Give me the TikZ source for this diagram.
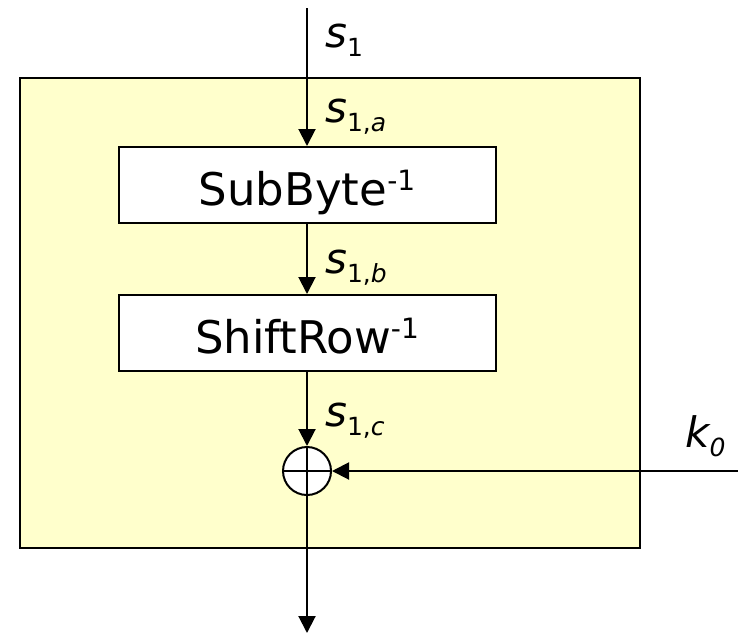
\documentclass[tikz,border=0pt]{standalone}
\usepackage{fontspec}
\setmainfont{DejaVu Sans}
\usetikzlibrary{arrows.meta}
\definecolor{panelfill}{HTML}{FFFFCC}
\newcommand{\lbl}[2]{{\fontsize{42}{42}\selectfont\itshape #1}\raisebox{-9pt}{\fontsize{25}{25}\selectfont #2}}
\newcommand{\supm}{\raisebox{15pt}{\fontsize{28}{28}\selectfont -1}}
\begin{document}
\begin{tikzpicture}[x=1pt,y=-1pt,
  panel/.style={draw=black,line width=2pt,fill=panelfill,minimum width=620pt,minimum height=470pt,inner sep=0pt},
  opbox/.style={draw=black,line width=2pt,fill=white,minimum width=377pt,minimum height=76pt,inner sep=0pt},
  boxtext/.style={anchor=base,inner sep=0pt,font=\fontsize{45}{54}\selectfont},
  xor/.style={draw=black,line width=2pt,fill=white,circle,minimum size=48pt,inner sep=0pt},
  arr/.style={line width=2pt,-{Triangle[length=17pt,width=17pt]}},
  lab/.style={anchor=base west,inner sep=0pt}]
\useasboundingbox (0,0) rectangle (738,635);
\node[panel] (panel) at (330,313) {};
\node[opbox] (sub) at (307,185) {};
\node[boxtext] (subt) at (307,205) {SubByte\supm};
\node[opbox] (shift) at (307,333) {};
\node[boxtext] (shiftt) at (307,353) {ShiftRow\supm};
\node[xor] (x) at (307,471) {};
\draw[line width=2pt] (x.north) -- (x.south) (x.west) -- (x.east);
\coordinate (top) at (307,8);
\coordinate (bot) at (307,633);
\coordinate (kin) at (738,471);
\draw[arr] (top) -- (sub.north);
\draw[arr] (sub) -- (shift);
\draw[arr] (shift) -- (x);
\draw[arr] (kin) -- (x);
\draw[arr] (x) -- (bot);
\node[lab] (ls1) at (325,47) {\lbl{s}{1}};
\node[lab] (ls1a) at (325,122) {\lbl{s}{1,\itshape a}};
\node[lab] (ls1b) at (325,273) {\lbl{s}{1,\itshape b}};
\node[lab] (ls1c) at (325,426) {\lbl{s}{1,\itshape c}};
\node[lab] (lk0) at (685,447) {\lbl{k}{\itshape 0}};
\end{tikzpicture}
\end{document}
